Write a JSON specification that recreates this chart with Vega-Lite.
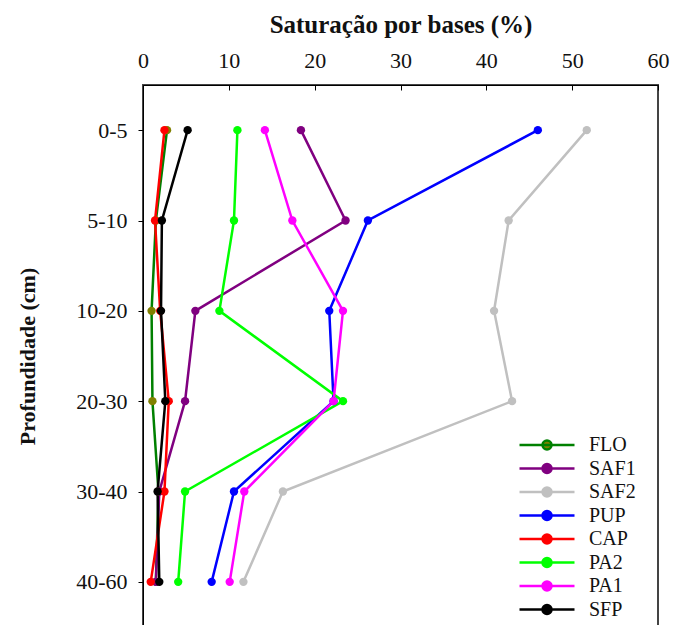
{
  "$schema": "https://vega.github.io/schema/vega-lite/v6.json",
  "autosize": {"type": "none"},
  "width": 515,
  "height": 542,
  "padding": {"left": 143, "top": 85, "right": 18, "bottom": 0},
  "background": "white",
  "config": {
    "font": "Liberation Serif",
    "view": {"stroke": "#444444", "strokeWidth": 2},
    "axis": {"domainColor": "#000000", "tickColor": "#000000", "labelColor": "#111111", "titleColor": "#111111", "grid": false}
  },
  "data": {
    "values": [
      {"serie": "FLO", "prof": "0-5", "v": 2.8},
      {"serie": "FLO", "prof": "5-10", "v": 1.5},
      {"serie": "FLO", "prof": "10-20", "v": 1.0},
      {"serie": "FLO", "prof": "20-30", "v": 1.1},
      {"serie": "FLO", "prof": "30-40", "v": 1.8},
      {"serie": "FLO", "prof": "40-60", "v": 1.5},
      {"serie": "SAF1", "prof": "0-5", "v": 18.4},
      {"serie": "SAF1", "prof": "5-10", "v": 23.6},
      {"serie": "SAF1", "prof": "10-20", "v": 6.1},
      {"serie": "SAF1", "prof": "20-30", "v": 4.9},
      {"serie": "SAF1", "prof": "30-40", "v": 1.9},
      {"serie": "SAF1", "prof": "40-60", "v": 1.5},
      {"serie": "SAF2", "prof": "0-5", "v": 51.7},
      {"serie": "SAF2", "prof": "5-10", "v": 42.6},
      {"serie": "SAF2", "prof": "10-20", "v": 40.9},
      {"serie": "SAF2", "prof": "20-30", "v": 43.0},
      {"serie": "SAF2", "prof": "30-40", "v": 16.3},
      {"serie": "SAF2", "prof": "40-60", "v": 11.7},
      {"serie": "PUP", "prof": "0-5", "v": 46.0},
      {"serie": "PUP", "prof": "5-10", "v": 26.2},
      {"serie": "PUP", "prof": "10-20", "v": 21.7},
      {"serie": "PUP", "prof": "20-30", "v": 22.2},
      {"serie": "PUP", "prof": "30-40", "v": 10.6},
      {"serie": "PUP", "prof": "40-60", "v": 8.0},
      {"serie": "CAP", "prof": "0-5", "v": 2.5},
      {"serie": "CAP", "prof": "5-10", "v": 1.4},
      {"serie": "CAP", "prof": "10-20", "v": 2.0},
      {"serie": "CAP", "prof": "20-30", "v": 3.0},
      {"serie": "CAP", "prof": "30-40", "v": 2.5},
      {"serie": "CAP", "prof": "40-60", "v": 0.9},
      {"serie": "PA2", "prof": "0-5", "v": 11.0},
      {"serie": "PA2", "prof": "5-10", "v": 10.6},
      {"serie": "PA2", "prof": "10-20", "v": 8.9},
      {"serie": "PA2", "prof": "20-30", "v": 23.3},
      {"serie": "PA2", "prof": "30-40", "v": 4.9},
      {"serie": "PA2", "prof": "40-60", "v": 4.1},
      {"serie": "PA1", "prof": "0-5", "v": 14.2},
      {"serie": "PA1", "prof": "5-10", "v": 17.4},
      {"serie": "PA1", "prof": "10-20", "v": 23.3},
      {"serie": "PA1", "prof": "20-30", "v": 22.2},
      {"serie": "PA1", "prof": "30-40", "v": 11.8},
      {"serie": "PA1", "prof": "40-60", "v": 10.1},
      {"serie": "SFP", "prof": "0-5", "v": 5.2},
      {"serie": "SFP", "prof": "5-10", "v": 2.2},
      {"serie": "SFP", "prof": "10-20", "v": 2.1},
      {"serie": "SFP", "prof": "20-30", "v": 2.6},
      {"serie": "SFP", "prof": "30-40", "v": 1.7},
      {"serie": "SFP", "prof": "40-60", "v": 1.9}
    ]
  },
  "encoding": {
    "x": {
      "field": "v", "type": "quantitative",
      "scale": {"domain": [0, 60], "nice": false, "zero": false},
      "axis": {
        "orient": "top", "title": "Saturação por bases (%)", "values": [0, 10, 20, 30, 40, 50, 60],
        "tickSize": -5, "labelPadding": 18, "labelFontSize": 22, "labelFlush": false,
        "titleFontSize": 25, "titleFontWeight": "bold", "titlePadding": 12
      }
    },
    "y": {
      "field": "prof", "type": "ordinal",
      "sort": ["0-5", "5-10", "10-20", "20-30", "30-40", "40-60"],
      "scale": {"type": "point", "padding": 0.5},
      "axis": {
        "title": "Profundidade (cm)", "labelFontSize": 22, "labelPadding": 11, "tickSize": 5,
        "titleFontSize": 22, "titleFontWeight": "bold", "titlePadding": 36, "labelAngle": 0
      }
    }
  },
  "layer": [
    {
      "mark": {"type": "line", "strokeWidth": 2.5},
      "encoding": {
        "stroke": {
          "field": "serie", "type": "nominal",
          "scale": {"domain": ["FLO", "SAF1", "SAF2", "PUP", "CAP", "PA2", "PA1", "SFP"],
                    "range": ["#008000", "#800080", "#C0C0C0", "#0000FF", "#FF0000", "#00FF00", "#FF00FF", "#000000"]},
          "legend": {
            "title": null, "orient": "none", "legendX": 394, "legendY": 350,
            "symbolType": "M-5.5,0H5.5M0.9,0A0.9,0.9,0,1,1,-0.9,0A0.9,0.9,0,1,1,0.9,0",
            "symbolSize": 100, "symbolStrokeWidth": 2.5, "labelFontSize": 20, "labelOffset": 32,
            "rowPadding": 3.5, "labelColor": "#111111"
          }
        }
      }
    },
    {
      "mark": {"type": "point", "filled": true, "size": 70, "opacity": 1},
      "encoding": {
        "fill": {
          "field": "serie", "type": "nominal",
          "scale": {"domain": ["FLO", "SAF1", "SAF2", "PUP", "CAP", "PA2", "PA1", "SFP"],
                    "range": ["#808000", "#800080", "#C0C0C0", "#0000FF", "#FF0000", "#00FF00", "#FF00FF", "#000000"]},
          "legend": {
            "title": null, "orient": "none", "legendX": 394, "legendY": 350,
            "symbolType": "M-5.5,0H5.5M0.9,0A0.9,0.9,0,1,1,-0.9,0A0.9,0.9,0,1,1,0.9,0",
            "symbolSize": 100, "symbolStrokeWidth": 2.5, "labelFontSize": 20, "labelOffset": 32,
            "rowPadding": 3.5, "labelColor": "#111111"
          }
        }
      }
    }
  ]
}
